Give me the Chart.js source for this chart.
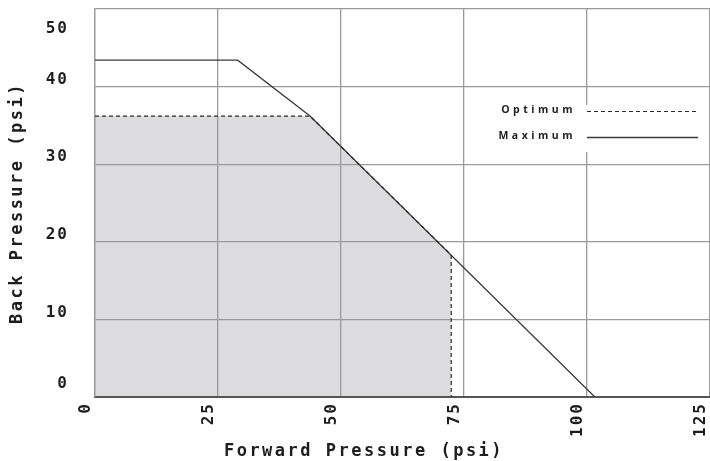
<!DOCTYPE html>
<html>
<head>
<meta charset="utf-8">
<script src="https://cdn.jsdelivr.net/npm/chart.js@4.4.1/dist/chart.umd.min.js"></script>
<style>
  html, body { margin: 0; padding: 0; background: #fff; }
  canvas { display: block; }
</style>
</head>
<body>
<canvas id="chart" width="710" height="461"></canvas>
<script>
// values
const forwardMax = [0, 29, 43.7, 101.6];
const backMax = [43.4, 43.4, 36.2, 0];
const forwardOpt = [0, 43.7, 72.4, 72.4];
const backOpt = [36.2, 36.2, 18.3, 0];
const xTickValues = [0, 25, 50, 75, 100, 125];
const yTickValues = [0, 10, 20, 30, 40, 50];
const seriesNames = ['Optimum', 'Maximum'];
const xTitle = 'Forward Pressure (psi)';
const yTitle = 'Back Pressure (psi)';

const toPoints = (xs, ys) => xs.map((x, i) => ({ x: x, y: ys[i] }));

const monoFont = 'bold 16px "DejaVu Sans Mono"';
const titleFont = 'bold 17px "DejaVu Sans Mono"';

// draws tick labels, axis titles and the legend box
const textPlugin = {
  id: 'textPlugin',
  afterDraw(chart) {
    const ctx = chart.ctx;
    const area = chart.chartArea;
    const xs = chart.scales.x;
    const ys = chart.scales.y;
    ctx.save();
    ctx.fillStyle = '#1e1e1e';

    // y tick labels
    ctx.font = monoFont;
    ctx.letterSpacing = '2px';
    ctx.textAlign = 'right';
    ctx.textBaseline = 'middle';
    yTickValues.forEach(v => {
      let y = ys.getPixelForValue(v) - 7;
      y = Math.max(y, area.top + 20);
      y = Math.min(y, area.bottom - 13);
      ctx.fillText(String(v), 69, y);
    });

    // x tick labels, rotated
    xTickValues.forEach(v => {
      const x = xs.getPixelForValue(v) - 9;
      ctx.save();
      ctx.translate(x, area.bottom + 5);
      ctx.rotate(-Math.PI / 2);
      ctx.textAlign = 'right';
      ctx.fillText(String(v), 0, 0);
      ctx.restore();
    });

    // axis titles
    ctx.font = titleFont;
    ctx.letterSpacing = '2.5px';
    ctx.textAlign = 'center';
    ctx.fillText(xTitle, 364, 452);
    ctx.save();
    ctx.translate(18, (area.top + area.bottom) / 2);
    ctx.rotate(-Math.PI / 2);
    ctx.fillText(yTitle, 0, 0);
    ctx.restore();

    // legend
    ctx.fillStyle = '#fff';
    ctx.fillRect(498, 105, 207, 47);
    ctx.font = 'bold 10.5px "Open Sans"';
    ctx.letterSpacing = '3.5px';
    ctx.fillStyle = '#1e1e1e';
    ctx.textAlign = 'right';
    const rows = [110, 136];
    chart.data.datasets.forEach((ds, i) => {
      ctx.fillText(ds.label, 576, rows[i]);
      ctx.beginPath();
      ctx.strokeStyle = ds.borderColor;
      ctx.lineWidth = ds.borderWidth;
      ctx.setLineDash(ds.borderDash || []);
      ctx.moveTo(587, rows[i] + 1.5);
      ctx.lineTo(698, rows[i] + 1.5);
      ctx.stroke();
    });
    ctx.restore();
  }
};

new Chart(document.getElementById('chart'), {
  type: 'scatter',
  data: {
    datasets: [
      {
        label: seriesNames[0],
        data: toPoints(forwardOpt, backOpt),
        showLine: true,
        borderColor: '#2a2a2a',
        borderWidth: 1.2,
        borderDash: [4, 3],
        backgroundColor: '#dcdcdf',
        fill: 'origin',
        pointRadius: 0,
        tension: 0,
      },
      {
        label: seriesNames[1],
        data: toPoints(forwardMax, backMax),
        showLine: true,
        borderColor: '#3a3a3a',
        borderWidth: 1.3,
        fill: false,
        pointRadius: 0,
        tension: 0,
      },
    ],
  },
  options: {
    responsive: false,
    animation: false,
    layout: {
      padding: { left: 95, top: 9, right: 0, bottom: 64 },
    },
    plugins: {
      legend: { display: false },
      tooltip: { enabled: false },
      filler: { drawTime: 'beforeDraw' },
    },
    scales: {
      x: {
        type: 'linear',
        min: 0,
        max: 125,
        afterBuildTicks: (scale) => { scale.ticks = xTickValues.map(v => ({ value: v })); },
        ticks: { display: false },
        grid: { color: '#9a9a9a', lineWidth: 1.3, drawTicks: false },
        border: { color: '#555', width: 2 },
      },
      y: {
        type: 'linear',
        min: 0,
        max: 50,
        afterBuildTicks: (scale) => { scale.ticks = yTickValues.map(v => ({ value: v })); },
        ticks: { display: false },
        grid: { color: '#9a9a9a', lineWidth: 1.3, drawTicks: false },
        border: { color: '#9a9a9a', width: 1.3 },
      },
    },
  },
  plugins: [textPlugin],
});
</script>
</body>
</html>
